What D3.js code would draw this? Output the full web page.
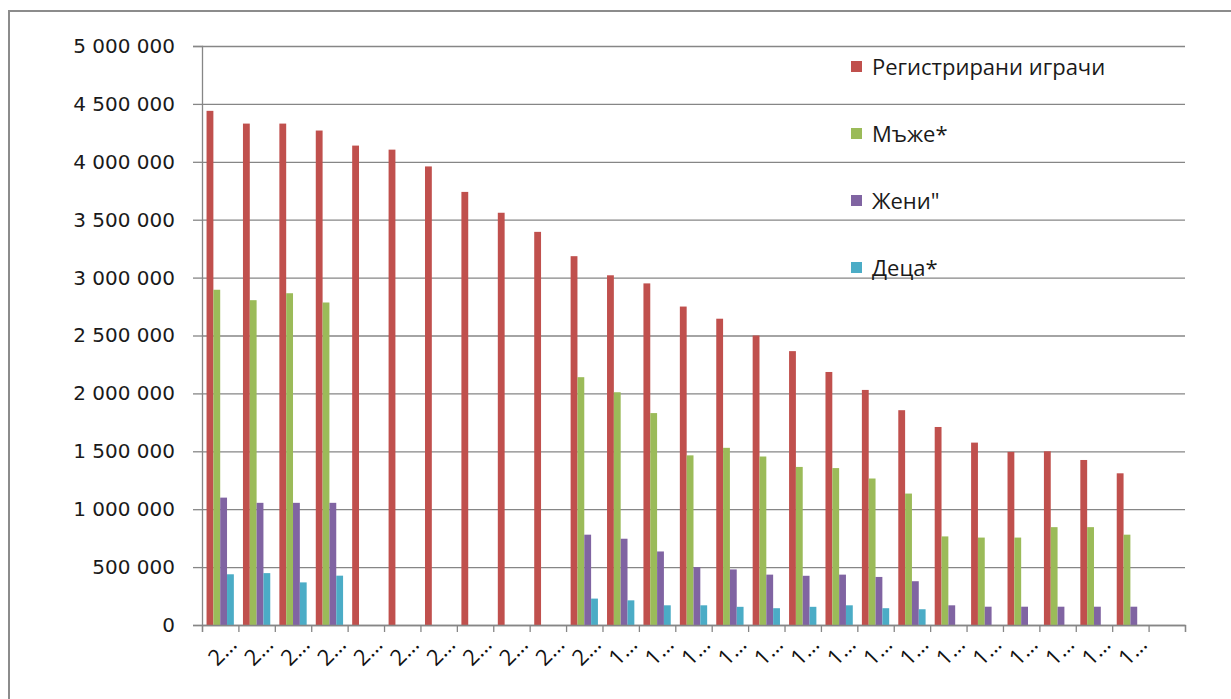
<!DOCTYPE html>
<html>
<head>
<meta charset="utf-8">
<script src="https://cdn.jsdelivr.net/npm/d3@7"></script>
<style>
  body { margin: 0; background: #fff; }
  svg { display: block; }
</style>
</head>
<body>
<div id="chart"></div>
<script>
// x labels as Excel shows them (cut off); the last category has no label
const labels = [
  "2…", "2…", "2…", "2…", "2…", "2…", "2…", "2…", "2…", "2…", "2…",
  "1…", "1…", "1…", "1…", "1…", "1…", "1…", "1…", "1…", "1…", "1…",
  "1…", "1…", "1…", "1…", ""
];

const registered = [
  4440000, 4330000, 4330000, 4270000, 4140000, 4105000, 3960000, 3740000, 3560000,
  3395000, 3185000, 3020000, 2950000, 2750000, 2645000, 2500000, 2365000, 2185000,
  2030000, 1855000, 1710000, 1575000, 1495000, 1500000, 1425000, 1310000, null
];
const men = [
  2895000, 2805000, 2865000, 2785000, null, null, null, null, null,
  null, 2140000, 2010000, 1830000, 1465000, 1530000, 1455000, 1365000, 1355000,
  1265000, 1135000, 765000, 755000, 755000, 845000, 845000, 780000, null
];
const women = [
  1100000, 1055000, 1055000, 1055000, null, null, null, null, null,
  null, 780000, 745000, 635000, 500000, 480000, 435000, 425000, 435000,
  415000, 378000, 170000, 158000, 158000, 158000, 158000, 158000, null
];
const children = [
  438000, 448000, 368000, 426000, null, null, null, null, null,
  null, 228000, 213000, 170000, 170000, 157000, 145000, 157000, 170000,
  145000, 136000, null, null, null, null, null, null, null
];

const seriesNames = ["Регистрирани играчи", "Мъже*", "Жени\"", "Деца*"];
const seriesData = [registered, men, women, children];
const colors = ["#C0504D", "#9BBB59", "#8064A2", "#4BACC6"];
const yTicks = [0, 500000, 1000000, 1500000, 2000000, 2500000, 3000000, 3500000, 4000000, 4500000, 5000000];

const W = 1231, H = 699;
const plotL = 202, plotR = 1185, plotT = 46, plotB = 625;

const svg = d3.select("#chart").append("svg")
  .attr("width", W)
  .attr("height", H);

svg.append("rect")
  .attr("width", W).attr("height", H)
  .attr("fill", "#fff");

// chart frame
svg.append("rect")
  .attr("x", 9).attr("y", 11)
  .attr("width", 1250).attr("height", 720)
  .attr("fill", "none")
  .attr("stroke", "#8c8c8c")
  .attr("stroke-width", 2);

const y = d3.scaleLinear().domain([0, 5000000]).range([plotB, plotT]);
const x0 = d3.scaleBand()
  .domain(d3.range(labels.length))
  .range([plotL, plotR])
  .paddingInner(0.25)
  .paddingOuter(0.125);
const x1 = d3.scaleBand()
  .domain(d3.range(seriesNames.length))
  .range([0, x0.bandwidth()]);
const xEdge = d3.scaleLinear().domain([0, labels.length]).range([plotL, plotR]);

const fmt = d3.formatLocale({ decimal: ",", thousands: " ", grouping: [3], currency: ["", ""] }).format(",");

// gridlines
svg.append("g")
  .attr("transform", `translate(${plotL},0)`)
  .call(d3.axisLeft(y).tickValues(yTicks).tickSize(-(plotR - plotL)).tickFormat(""))
  .call(g => g.select(".domain").remove())
  .call(g => g.selectAll("line").attr("stroke", "#868686").attr("stroke-width", 1.3));

// y axis
svg.append("g")
  .attr("transform", `translate(${plotL},0)`)
  .call(d3.axisLeft(y).tickValues(yTicks).tickSize(9).tickPadding(18).tickFormat(fmt))
  .call(g => g.select(".domain").attr("stroke", "#868686").attr("stroke-width", 1.3))
  .call(g => g.selectAll("line").attr("stroke", "#868686").attr("stroke-width", 1.3))
  .call(g => g.selectAll("text")
    .attr("fill", "#1a1a1a")
    .style("font-family", "'DejaVu Sans', Verdana, sans-serif")
    .style("font-size", "20px"));

// bars
seriesData.forEach((vals, s) => {
  svg.append("g")
    .selectAll("rect")
    .data(vals.map((v, i) => ({ i, v })).filter(d => d.v != null))
    .join("rect")
    .attr("x", d => x0(d.i) + x1(s))
    .attr("y", d => y(d.v))
    .attr("width", x1.bandwidth())
    .attr("height", d => y(0) - y(d.v))
    .attr("fill", colors[s]);
});

// x axis
svg.append("g")
  .attr("transform", `translate(0,${plotB})`)
  .call(d3.axisBottom(xEdge).tickValues(d3.range(labels.length + 1)).tickSize(7).tickFormat(""))
  .call(g => g.select(".domain").attr("stroke", "#868686").attr("stroke-width", 1.3))
  .call(g => g.selectAll("line").attr("stroke", "#868686").attr("stroke-width", 1.3));

svg.append("g")
  .selectAll("text")
  .data(labels)
  .join("text")
  .attr("text-anchor", "end")
  .attr("transform", (d, i) => `translate(${x0(i) + x0.bandwidth() / 2 + 18},646) rotate(-45)`)
  .style("font-family", "'Open Sans', sans-serif")
  .style("font-size", "22px")
  .attr("fill", "#111")
  .text(d => d);

// legend
const legend = svg.append("g")
  .selectAll("g")
  .data(seriesNames)
  .join("g")
  .attr("transform", (d, i) => `translate(851,${67 + i * 67})`);

legend.append("rect")
  .attr("y", -6)
  .attr("width", 11).attr("height", 11)
  .attr("fill", (d, i) => colors[i]);

legend.append("text")
  .attr("x", 21)
  .attr("dy", "0.36em")
  .style("font-family", "'Open Sans', sans-serif")
  .style("font-size", "22px")
  .attr("fill", "#1a1a1a")
  .text(d => d);
</script>
</body>
</html>
